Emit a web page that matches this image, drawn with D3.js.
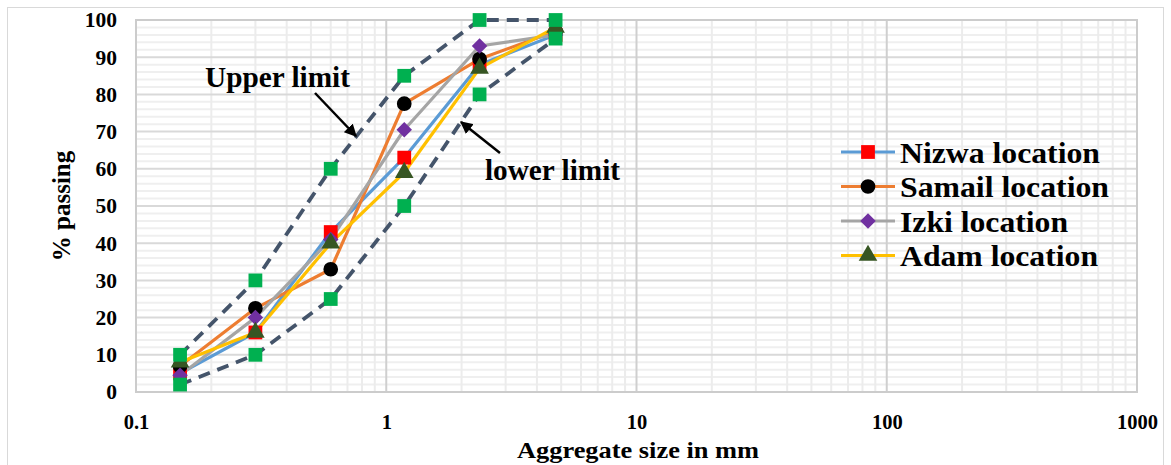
<!DOCTYPE html>
<html><head><meta charset="utf-8">
<script src="https://cdn.jsdelivr.net/npm/d3@7"></script>
<style>body{margin:0;background:#fff}svg{display:block}text{font-family:"Liberation Serif","Times New Roman",serif;font-weight:bold;fill:#000}</style>
</head><body><svg id="c" width="1171" height="465"></svg>
<script>
const sizes = [0.15, 0.3, 0.6, 1.18, 2.36, 4.75];
const nizwa = [5, 16, 43, 63, 88, 96];
const samail = [7, 22.5, 33, 77.5, 89.5, 97];
const izki = [4.5, 20, 41, 70.5, 93, 96];
const adam = [8, 16, 40, 59, 87, 98];
const upperLimit = [10, 30, 60, 85, 100, 100];
const lowerLimit = [2, 10, 25, 50, 80, 95];
const xTicks = [0.1, 1, 10, 100, 1000];
const yTicks = [0, 10, 20, 30, 40, 50, 60, 70, 80, 90, 100];
const seriesNames = ["Nizwa location", "Samail location", "Izki location", "Adam location"];

const diamond = {draw(ctx, size) { const r = Math.sqrt(size / 2); ctx.moveTo(0, -r); ctx.lineTo(r, 0); ctx.lineTo(0, r); ctx.lineTo(-r, 0); ctx.closePath(); }};
const series = [
  {name: seriesNames[0], values: nizwa, line: "#5B9BD5", fill: "#FF0000", sym: d3.symbolSquare, size: 190},
  {name: seriesNames[1], values: samail, line: "#ED7D31", fill: "#000000", sym: d3.symbolCircle, size: 170},
  {name: seriesNames[2], values: izki, line: "#A5A5A5", fill: "#7030A0", sym: diamond, size: 120},
  {name: seriesNames[3], values: adam, line: "#FFC000", fill: "#375623", sym: d3.symbolTriangle, size: 150}
];

const svg = d3.select("#c");
const L = 136, R = 1137, T = 20, B = 392;
const x = d3.scaleLog().domain([0.1, 1000]).range([L, R]);
const y = d3.scaleLinear().domain([0, 100]).range([B, T]);

svg.append("rect").attr("x", 7.5).attr("y", 7.5).attr("width", 1156).attr("height", 480)
  .attr("fill", "none").attr("stroke", "#d9d9d9").attr("stroke-width", 1);

const g = svg.append("g");
const yMinor = d3.range(0, 101, 2).filter(v => v % 10 !== 0);
g.selectAll(".hm").data(yMinor).join("line")
  .attr("x1", L).attr("x2", R).attr("y1", d => y(d)).attr("y2", d => y(d))
  .attr("stroke", "#efefef").attr("stroke-width", 2);
const xMinor = [];
[0.1, 1, 10, 100].forEach(b => { for (let k = 2; k <= 9; k++) xMinor.push(b * k); });
g.selectAll(".vm").data(xMinor).join("line")
  .attr("x1", d => x(d)).attr("x2", d => x(d)).attr("y1", T).attr("y2", B)
  .attr("stroke", "#ececec").attr("stroke-width", 2);
g.selectAll(".hM").data(yTicks).join("line")
  .attr("x1", L).attr("x2", R).attr("y1", d => y(d)).attr("y2", d => y(d))
  .attr("stroke", "#d9d9d9").attr("stroke-width", 2);
g.selectAll(".vM").data(xTicks).join("line")
  .attr("x1", d => x(d)).attr("x2", d => x(d)).attr("y1", T).attr("y2", B)
  .attr("stroke", "#cfcfcf").attr("stroke-width", 2);
g.append("rect").attr("x", L).attr("y", T).attr("width", R - L).attr("height", B - T)
  .attr("fill", "none").attr("stroke", "#cccccc").attr("stroke-width", 2);

const xAxis = d3.axisBottom(x).tickValues(xTicks).tickFormat(d => String(d)).tickSize(0).tickPadding(0);
const xa = svg.append("g").attr("transform", `translate(0,${B + 30})`).call(xAxis);
xa.select(".domain").remove();
xa.selectAll("text").attr("font-size", 20.5).attr("dy", "0.35em").attr("font-family", "Liberation Serif").attr("fill", "#000");
const yAxis = d3.axisLeft(y).tickValues(yTicks).tickSize(0).tickPadding(0);
const ya = svg.append("g").attr("transform", `translate(${L - 19},0)`).call(yAxis);
ya.select(".domain").remove();
ya.selectAll("text").attr("font-size", 21.5).attr("font-family", "Liberation Serif").attr("fill", "#000");

svg.append("text").attr("x", 638).attr("y", 458).attr("text-anchor", "middle").attr("font-size", 24)
  .attr("textLength", 242).attr("lengthAdjust", "spacingAndGlyphs").text("Aggregate size in mm");
svg.append("text").attr("transform", "translate(70,206) rotate(-90)").attr("text-anchor", "middle").attr("font-size", 25)
  .text("% passing");

const line = d3.line().x(d => x(d[0])).y(d => y(d[1]));
const pts = vals => sizes.map((s, i) => [s, vals[i]]);

series.forEach(s => {
  svg.append("path").attr("d", line(pts(s.values))).attr("fill", "none")
    .attr("stroke", s.line).attr("stroke-width", 3.2).attr("stroke-linejoin", "round");
});
series.forEach(s => {
  svg.selectAll(null).data(pts(s.values)).join("path")
    .attr("transform", d => `translate(${x(d[0])},${y(d[1])})`)
    .attr("d", d3.symbol().type(s.sym).size(s.size)).attr("fill", s.fill);
});

[upperLimit, lowerLimit].forEach(v => {
  svg.append("path").attr("d", line(pts(v))).attr("fill", "none")
    .attr("stroke", "#44546A").attr("stroke-width", 3.8).attr("stroke-dasharray", "12,8");
});
[upperLimit, lowerLimit].forEach(v => {
  svg.selectAll(null).data(pts(v)).join("path")
    .attr("transform", d => `translate(${x(d[0])},${y(d[1])})`)
    .attr("d", d3.symbol().type(d3.symbolSquare).size(190)).attr("fill", "#00B050");
});

const defs = svg.append("defs");
defs.append("marker").attr("id", "ah").attr("viewBox", "0 0 10 10").attr("refX", 9).attr("refY", 5)
  .attr("markerWidth", 5).attr("markerHeight", 5).attr("orient", "auto")
  .append("path").attr("d", "M0,0 L10,5 L0,10 z").attr("fill", "#000");
svg.append("text").attr("x", 205).attr("y", 87).attr("font-size", 29).attr("textLength", 145).attr("lengthAdjust", "spacingAndGlyphs").text("Upper limit");
svg.append("line").attr("x1", 315).attr("y1", 93).attr("x2", 356).attr("y2", 136)
  .attr("stroke", "#000").attr("stroke-width", 2.5).attr("marker-end", "url(#ah)");
svg.append("text").attr("x", 485).attr("y", 180).attr("font-size", 29).attr("textLength", 135).attr("lengthAdjust", "spacingAndGlyphs").text("lower limit");
svg.append("line").attr("x1", 500).attr("y1", 153).attr("x2", 461).attr("y2", 122)
  .attr("stroke", "#000").attr("stroke-width", 2.5).attr("marker-end", "url(#ah)");

const legendLen = [200, 209, 168, 198];
const lg = svg.append("g");
series.forEach((s, i) => {
  const cy = 152 + i * 34.5;
  lg.append("line").attr("x1", 841).attr("x2", 895).attr("y1", cy).attr("y2", cy)
    .attr("stroke", s.line).attr("stroke-width", 3.2);
  lg.append("path").attr("transform", `translate(868,${cy})`)
    .attr("d", d3.symbol().type(s.sym).size(s.size)).attr("fill", s.fill);
  lg.append("text").attr("x", 900).attr("y", cy).attr("dy", "0.35em").attr("font-size", 30)
    .attr("textLength", legendLen[i]).attr("lengthAdjust", "spacingAndGlyphs").text(s.name);
});
</script></body></html>
